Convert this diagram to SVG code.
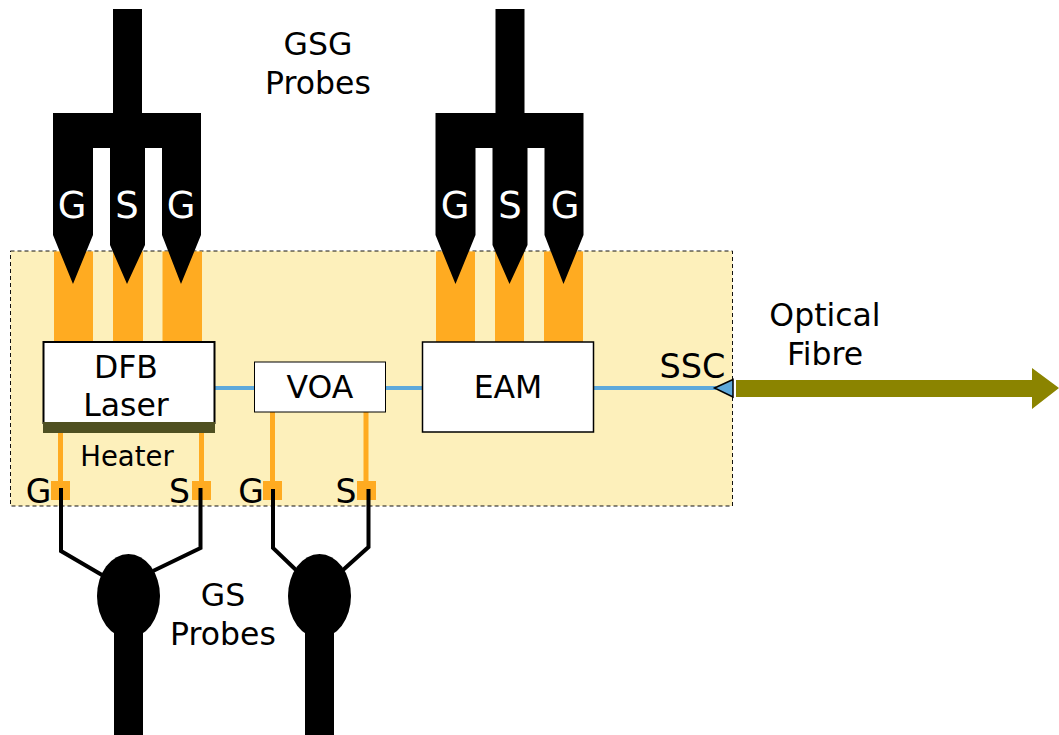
<svg xmlns="http://www.w3.org/2000/svg" width="1059" height="735" viewBox="0 0 1059 735">
<style>
text{font-family:"DejaVu Sans",Verdana,sans-serif;font-size:31.500px;fill:#000;text-anchor:middle}
.w{fill:#fff;font-size:37px}
.o{fill:#ffab21}
.k{fill:#000}
.box{fill:#fff;stroke:#000}
.ol{stroke:#ffab21;stroke-width:5;fill:none}
.bl{stroke:#000;stroke-width:4;fill:none}
.fb{stroke:#5ea9db;stroke-width:4;fill:none}
.pin{font-size:33px}
</style>
<defs>
<g id="gsg">
<rect class="k" x="113" y="9" width="29" height="104"/>
<path class="k" d="M53 113H201V235L181 284L162 235V148H145V245L127 284L110 245V148H93V235L73 284L53 235Z"/>
</g>
<g id="gs">
<ellipse class="k" cx="128.500" cy="596" rx="31.500" ry="42"/>
<rect class="k" x="114" y="630" width="29" height="105"/>
</g>
</defs>
<g id="chip"><rect x="10.500" y="251" width="722" height="255" fill="#fdf0bb" stroke="#111" stroke-width="1" stroke-dasharray="4 3"/></g>
<g id="pads">
<rect class="o" x="54" y="251.500" width="39" height="90.500"/>
<rect class="o" x="113" y="251.500" width="30" height="90.500"/>
<rect class="o" x="162.500" y="251.500" width="39.500" height="90.500"/>
<rect class="o" x="436" y="251.500" width="39" height="90.500"/>
<rect class="o" x="495" y="251.500" width="29" height="90.500"/>
<rect class="o" x="544" y="251.500" width="39" height="90.500"/>
</g>
<g id="connectors">
<path class="fb" d="M214 388H254M385 388H422M593 388H716"/>
<path class="ol" d="M60.500 433V490M201.500 432V490M272.500 412V490M366 412V490"/>
<path class="o" d="M51 481h19v19h-19zM192 481h19v19h-19zM263 481h19v19h-19zM357 481h19v19h-19z"/>
<path class="bl" d="M61 488V551L102 575M200.500 488V548L153 571M273 489V548L296 570M368.500 489V547L343 570"/>
</g>
<g id="probe-gsg-left"><use href="#gsg"/>
<text class="w" x="72" y="218">G</text><text class="w" x="127" y="218">S</text><text class="w" x="181" y="218">G</text></g>
<g id="probe-gsg-right"><use href="#gsg" x="382.500"/>
<text class="w" x="455" y="218">G</text><text class="w" x="510" y="218">S</text><text class="w" x="565" y="218">G</text></g>
<g id="probe-gs-left"><use href="#gs"/></g>
<g id="probe-gs-right"><use href="#gs" x="191"/></g>
<g id="dfb"><rect class="box" x="43.500" y="342" width="171" height="81" stroke-width="2"/>
<rect x="43" y="422" width="172" height="11" fill="#4f5021"/>
<text x="126" y="378">DFB</text><text x="126" y="416">Laser</text></g>
<g id="voa"><rect class="box" x="254.500" y="362" width="131" height="50" stroke-width="1"/><text x="320" y="398">VOA</text></g>
<g id="eam"><rect class="box" x="422.500" y="342" width="171" height="90" stroke-width="1.500"/><text x="508" y="398">EAM</text></g>
<g id="ssc"><path d="M714.500 388L733 379.500V397Z" fill="#5ea9db" stroke="#000" stroke-width="1.500"/><text x="692.500" y="378" style="font-size:33.500px">SSC</text></g>
<g id="fibre"><path d="M736 380H1032V368L1059 388L1032 409V397H736Z" fill="#8b8400"/></g>
<g id="labels">
<text x="318" y="55">GSG</text><text x="318" y="94">Probes</text>
<text x="825" y="326">Optical</text><text x="825" y="365">Fibre</text>
<text x="223" y="606">GS</text><text x="223" y="645">Probes</text>
<text x="127" y="466" style="font-size:27.500px">Heater</text>
<text class="pin" x="38.500" y="503">G</text><text class="pin" x="179.500" y="503">S</text><text class="pin" x="251" y="503">G</text><text class="pin" x="346" y="503">S</text>
</g>
</svg>
